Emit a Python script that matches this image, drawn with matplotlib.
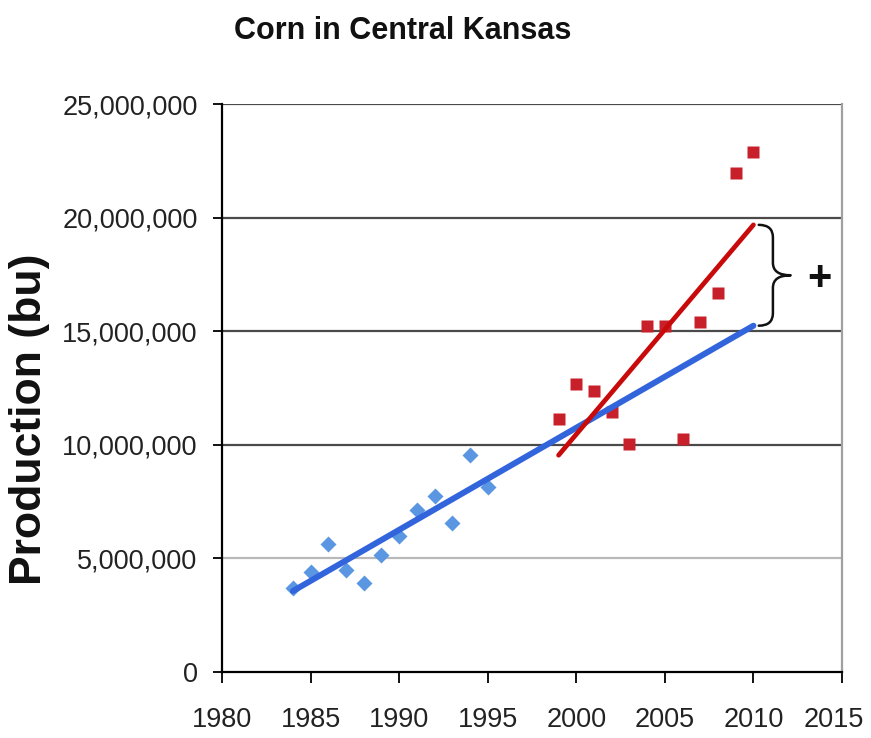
import numpy as np
import matplotlib
matplotlib.use("Agg")
import matplotlib.pyplot as plt
from matplotlib.path import Path
from matplotlib.patches import PathPatch
from matplotlib.ticker import FuncFormatter
from matplotlib.transforms import ScaledTranslation

# ---- data ----
title = "Corn in Central Kansas"
ylabel = "Production (bu)"
early_years = [1984, 1985, 1986, 1987, 1988, 1989, 1990, 1991, 1992, 1993, 1994, 1995]
early_prod = [3.70e6, 4.40e6, 5.63e6, 4.50e6, 3.90e6, 5.15e6, 6.00e6, 7.13e6, 7.75e6, 6.56e6, 9.55e6, 8.14e6]
late_years = [1999, 2000, 2001, 2002, 2003, 2004, 2005, 2006, 2007, 2008, 2009, 2010]
late_prod = [11.14e6, 12.68e6, 12.37e6, 11.44e6, 10.04e6, 15.23e6, 15.23e6, 10.26e6, 15.40e6, 16.70e6, 21.96e6, 22.90e6]
xticks = [1980, 1985, 1990, 1995, 2000, 2005, 2010, 2015]
yticks = [0, 5e6, 10e6, 15e6, 20e6, 25e6]
early_fit_span = [1984, 2010]
late_fit_span = [1999, 2010]
annot_text = "+"

FONT = ['Liberation Sans', 'DejaVu Sans']

fig = plt.figure(figsize=(8.71, 7.38), dpi=100)
ax = fig.add_axes([0.2549, 0.0894, 0.7118, 0.7696])

ax.set_xlim(xticks[0], xticks[-1])
ax.set_ylim(yticks[0], yticks[-1])

# gridlines
for yv in yticks[1:]:
    col = '#b8b8b8' if yv == yticks[1] else '#4a4a4a'
    ax.axhline(yv, color=col, lw=1.6, zorder=1)

# scatter points
ax.plot(early_years, early_prod, 'D', color='#5a96e1', ms=7.8, mec='none', zorder=3)
ax.plot(late_years, late_prod, 's', color='#c8202a', ms=8.5, mec='none', zorder=3)

# trend lines (least squares fits)
pe = np.polyfit(early_years, early_prod, 1)
pl = np.polyfit(late_years, late_prod, 1)
xe = np.array(early_fit_span, dtype=float)
xl = np.array(late_fit_span, dtype=float)
ax.plot(xe, np.polyval(pe, xe), color='#3264dc', lw=4.3, solid_capstyle='round', zorder=4)
ax.plot(xl, np.polyval(pl, xl), color='#c80a0a', lw=3.4, solid_capstyle='round', zorder=5)

# curly brace between the two trend-line ends
xend = late_fit_span[-1]
ytop = np.polyval(pl, xend)
ybot = np.polyval(pe, xend)
ymid = 0.5 * (ytop + ybot)
xa, xb, xc = xend + 0.3, xend + 1.1, xend + 2.1
h = 0.55e6
verts = [(xa, ytop), (xb, ytop), (xb, ytop - h),
         (xb, ymid + h), (xb, ymid), (xc, ymid),
         (xb, ymid), (xb, ymid - h),
         (xb, ybot + h), (xb, ybot), (xa, ybot)]
codes = [Path.MOVETO, Path.CURVE3, Path.CURVE3,
         Path.LINETO, Path.CURVE3, Path.CURVE3,
         Path.CURVE3, Path.CURVE3,
         Path.LINETO, Path.CURVE3, Path.CURVE3]
ax.add_patch(PathPatch(Path(verts, codes), fill=False, lw=1.8, ec='#111111',
                       capstyle='round', joinstyle='round', zorder=6, clip_on=False))
ax.text(xend + 3.75, ymid - 0.15e6, annot_text, fontsize=30, fontweight='bold',
        ha='center', va='center', family=FONT, color='#111111')

# axes styling
ax.spines['top'].set_visible(False)
ax.spines['right'].set_color('#a0a0a0')
ax.spines['right'].set_linewidth(1.6)
ax.spines['left'].set_linewidth(1.6)
ax.spines['bottom'].set_linewidth(1.6)
ax.spines['left'].set_zorder(7)
ax.spines['bottom'].set_zorder(7)

ax.set_xticks(xticks)
ax.set_yticks(yticks)
ax.yaxis.set_major_formatter(FuncFormatter(lambda v, p: f"{int(round(v)):,}"))
ax.tick_params(axis='x', direction='out', length=8, width=1.4, pad=17, labelsize=19.5, colors='#111111')
ax.tick_params(axis='y', direction='out', length=6.5, width=1.4, pad=11, labelsize=19.5, colors='#111111')
for lab in ax.get_xticklabels() + ax.get_yticklabels():
    lab.set_family(FONT)
    lab.set_color('#222222')
# keep the last x label inside the picture
last = ax.get_xticklabels()[-1]
last.set_transform(last.get_transform() + ScaledTranslation(-8 / 100, 0, fig.dpi_scale_trans))

fig.text(30 / 871, 1 - 419 / 738, ylabel, fontsize=32, fontweight='bold', family=FONT,
         rotation=90, ha='center', va='center', color='#111111')

fig.text(0.462, 0.958, title, fontsize=22, fontweight='bold', family=FONT,
         ha='center', va='center', color='#111111')

fig.savefig("out.png", dpi=100, facecolor='white')
